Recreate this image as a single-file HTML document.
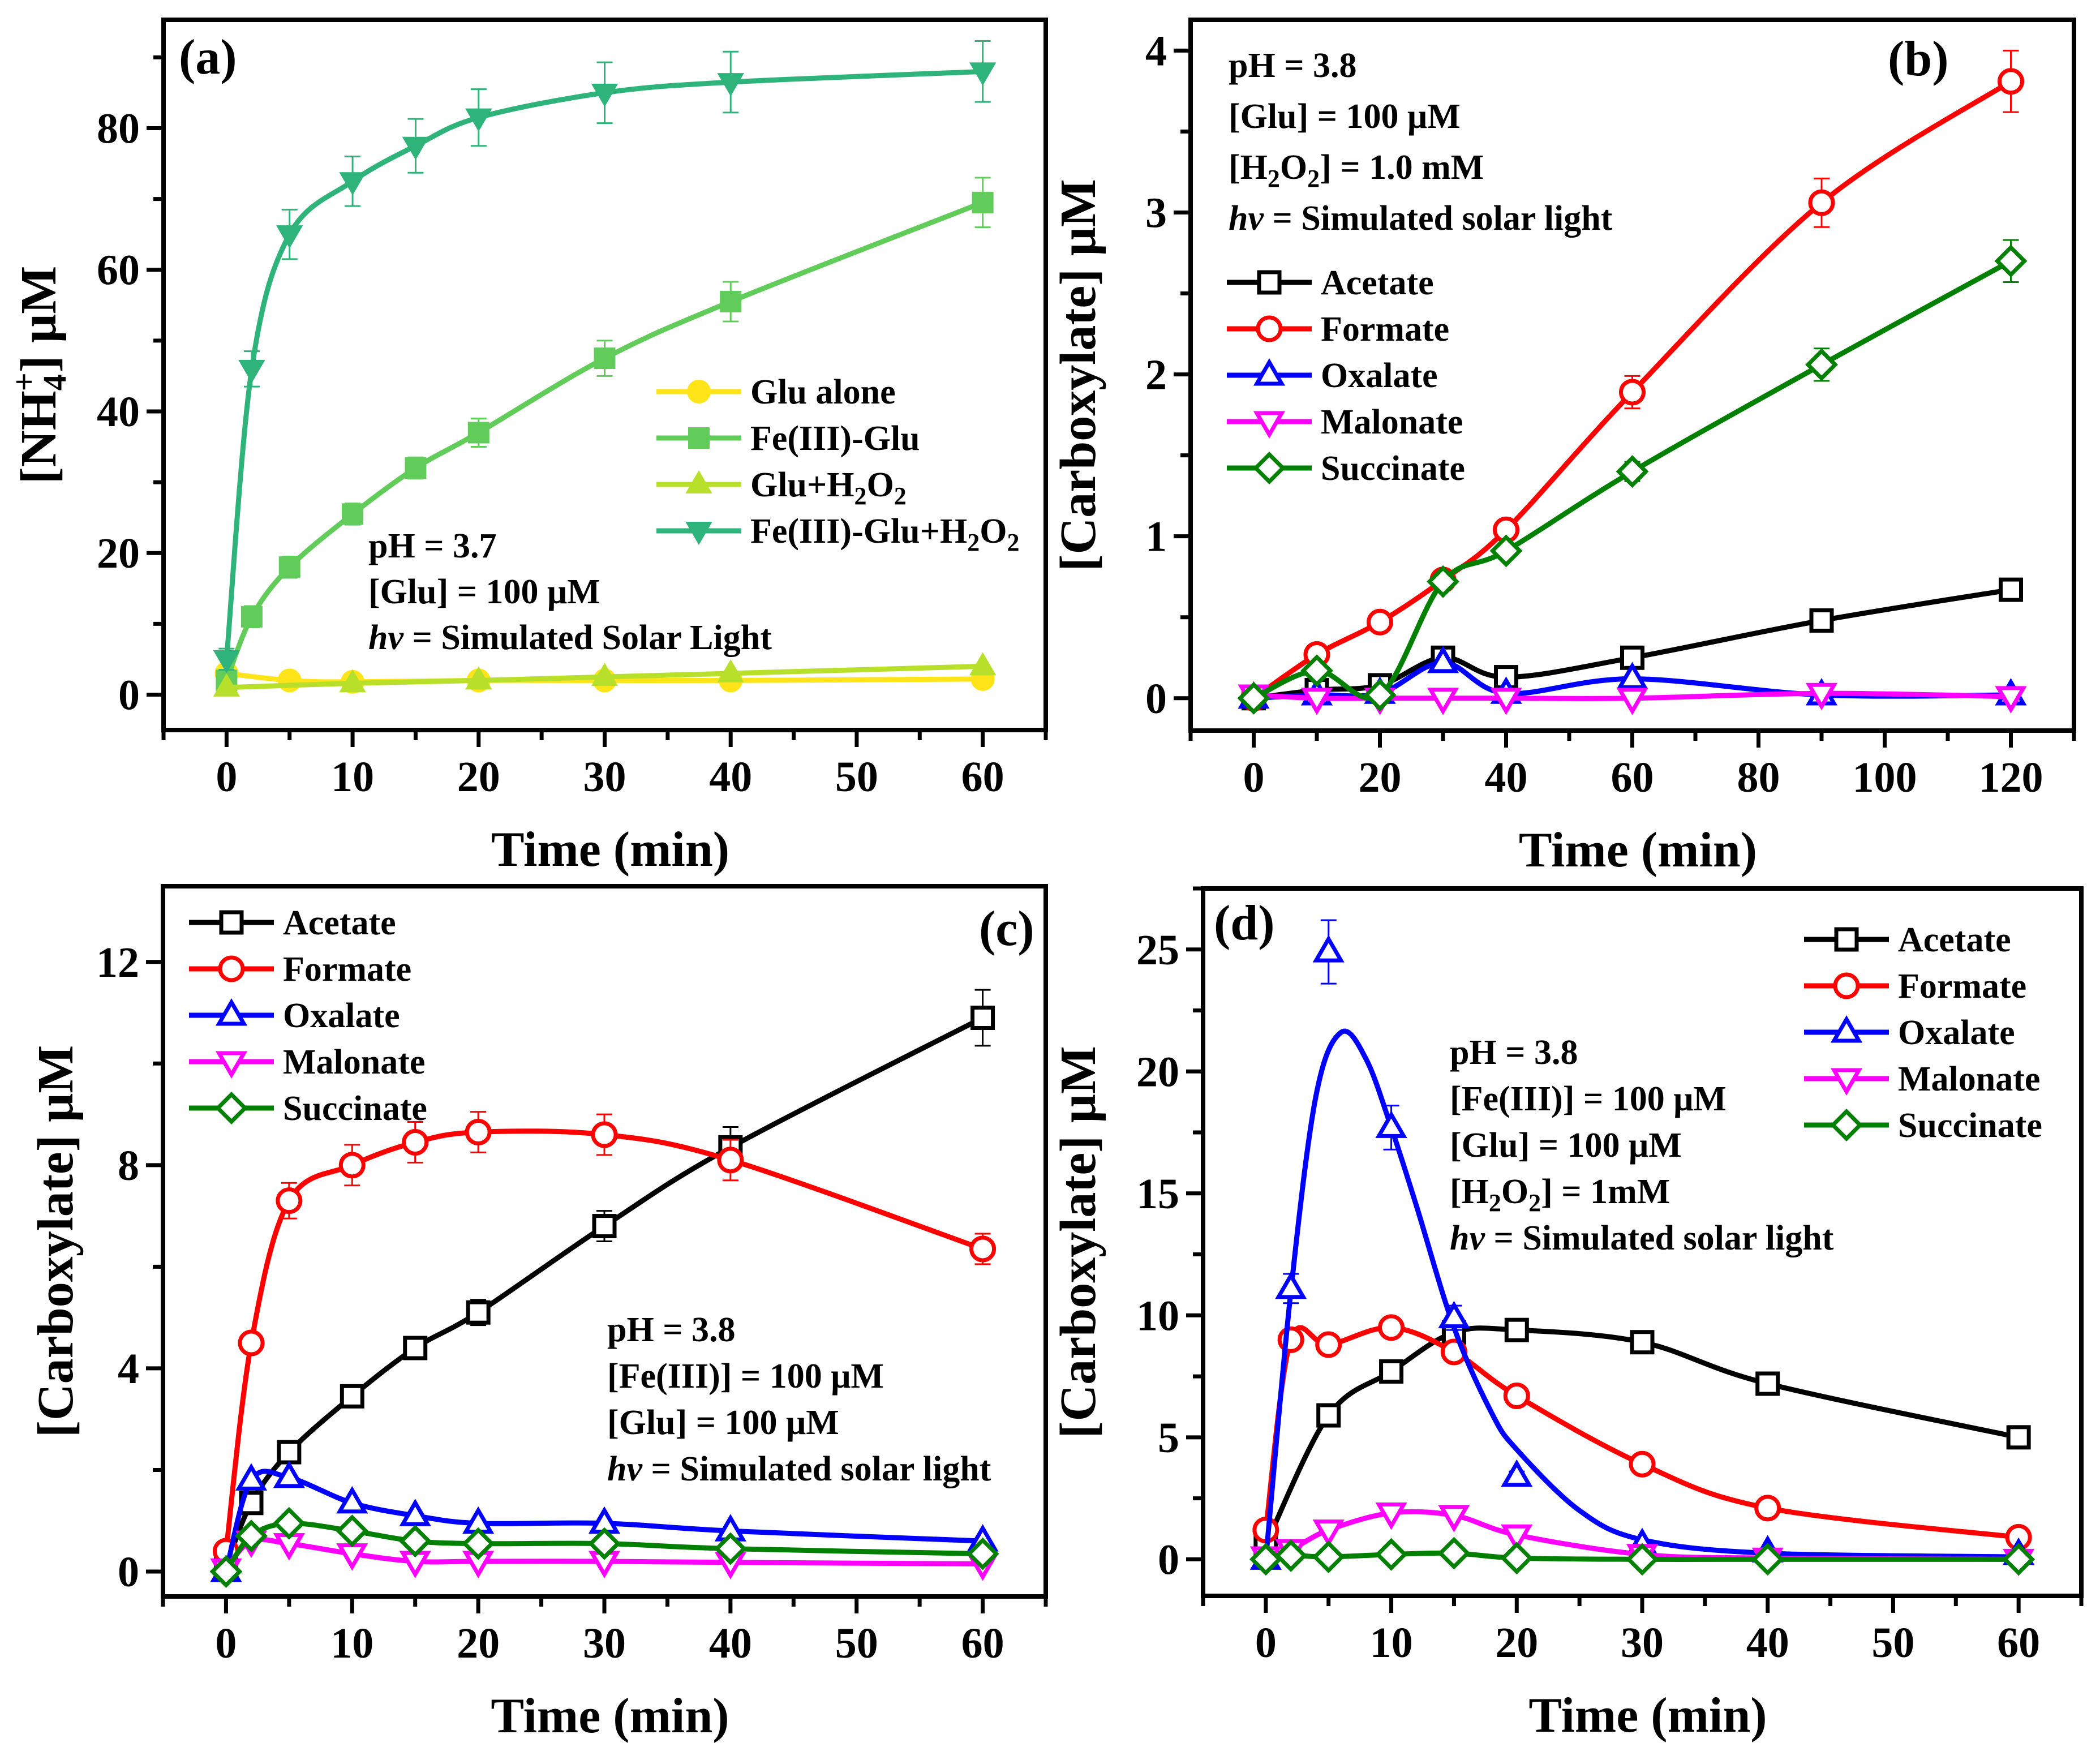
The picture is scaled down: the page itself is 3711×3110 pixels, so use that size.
<!DOCTYPE html>
<html><head><meta charset="utf-8">
<style>
html,body{margin:0;padding:0;background:#fff;}
svg{display:block;font-family:"Liberation Serif","DejaVu Serif",serif;font-weight:bold;}
</style></head>
<body>
<svg id="fig" width="3711" height="3110" viewBox="0 0 3711 3110" xmlns="http://www.w3.org/2000/svg"></svg>
<script>
// ---------- Panel (a) data ----------
const aGluX = [0,5,10,20,30,40,60];
const aGluY = [3,2,1.8,2,2,2,2.2];
const aFeGluX = [0,2,5,10,15,20,30,40,60];
const aFeGluY = [2,11,18,25.5,32,37,47.5,55.5,69.5];
const aFeGluE = [1,1.5,1.5,1.5,1.5,2,2.5,2.8,3.5];
const aGluHX = [0,10,20,30,40,60];
const aGluHY = [1,1.6,2,2.5,3,4];
const aFeGluHX = [0,2,5,10,15,20,30,40,60];
const aFeGluHY = [5,46,65,72.5,77.5,81.5,85,86.5,88];
const aFeGluHE = [1.5,2.5,3.5,3.5,3.8,4,4.3,4.3,4.3];
const aXTicks = [0,10,20,30,40,50,60];
const aYTicks = [0,20,40,60,80];
// ---------- Panel (b) data ----------
const bX = [0,10,20,30,40,60,90,120];
const bAcetate = [0,0.05,0.08,0.25,0.13,0.25,0.48,0.67];
const bFormate = [0,0.27,0.47,0.73,1.04,1.89,3.06,3.81];
const bFormateE = [0,0.03,0.03,0.04,0.05,0.1,0.15,0.19];
const bOxalate = [0,0.02,0.03,0.22,0.03,0.12,0.02,0.02];
const bMalonate = [0.02,0,0,0,0,0,0.03,0.01];
const bSuccinate = [0,0.17,0.02,0.72,0.91,1.4,2.06,2.7];
const bSuccinateE = [0,0.03,0.03,0.04,0.05,0.06,0.1,0.13];
const bXTicks = [0,20,40,60,80,100,120];
const bYTicks = [0,1,2,3,4];
// ---------- Panel (c) data ----------
const cX = [0,2,5,10,15,20,30,40,60];
const cAcetate = [0.1,1.35,2.35,3.45,4.4,5.1,6.8,8.35,10.9];
const cAcetateE = [0.05,0.1,0.1,0.12,0.2,0.25,0.3,0.4,0.55];
const cFormate = [0.4,4.5,7.3,8.0,8.45,8.65,8.6,8.1,6.35];
const cFormateE = [0.05,0.2,0.35,0.4,0.4,0.4,0.4,0.4,0.3];
const cOxalate = [0,1.8,1.85,1.35,1.1,0.95,0.95,0.8,0.6];
const cMalonate = [0.05,0.6,0.55,0.35,0.2,0.2,0.2,0.18,0.15];
const cSuccinate = [0,0.7,0.95,0.8,0.6,0.55,0.55,0.45,0.35];
const cXTicks = [0,10,20,30,40,50,60];
const cYTicks = [0,4,8,12];
// ---------- Panel (d) data ----------
const dAcetateX = [0,5,10,15,20,30,40,60];
const dAcetate = [0.6,5.9,7.7,9.3,9.4,8.9,7.2,5.0];
const dX = [0,2,5,10,15,20,30,40,60];
const dFormate = [1.2,9.0,8.8,9.5,8.5,6.7,3.9,2.1,0.9];
const dOxalate = [0,11.1,24.9,17.7,9.9,3.4,0.6,0.3,0.2];
const dOxalateE = [0,0.6,1.3,0.9,0.5,0.2,0.1,0.1,0.1];
const dOxalateFitX = [0,2,4,6,8,10,12,15,18,20,25,30,40,60];
const dOxalateFitY = [0,11,19,21.6,20.5,17.7,14.5,9.5,6,4.5,2,0.8,0.25,0.1];
const dMalonate = [0.1,0.4,1.2,1.9,1.8,1.0,0.2,0.05,0];
const dSuccinate = [0,0.15,0.1,0.2,0.25,0.05,0,0,0];
const dXTicks = [0,10,20,30,40,50,60];
const dYTicks = [0,5,10,15,20,25];

const NS = "http://www.w3.org/2000/svg";
const svg = document.getElementById('fig');
function mk(tag, attrs, parent){
  const e = document.createElementNS(NS, tag);
  for (const k in attrs) e.setAttribute(k, attrs[k]);
  (parent||svg).appendChild(e);
  return e;
}
function txt(parent, x, y, html, size, anchor, extra){
  const t = mk('text', Object.assign({x:x, y:y, 'font-size':size, 'text-anchor':anchor||'start', fill:'#000'}, extra||{}), parent);
  t.innerHTML = html;
  return t;
}
function smoothPath(pts){
  if (pts.length < 2) return '';
  let d = 'M' + pts[0][0] + ',' + pts[0][1];
  for (let i = 0; i < pts.length - 1; i++){
    const p0 = pts[Math.max(0,i-1)], p1 = pts[i], p2 = pts[i+1], p3 = pts[Math.min(pts.length-1,i+2)];
    const t = 6;
    const c1x = p1[0] + (p2[0]-p0[0])/t, c1y = p1[1] + (p2[1]-p0[1])/t;
    const c2x = p2[0] - (p3[0]-p1[0])/t, c2y = p2[1] - (p3[1]-p1[1])/t;
    d += ' C' + c1x + ',' + c1y + ' ' + c2x + ',' + c2y + ' ' + p2[0] + ',' + p2[1];
  }
  return d;
}
function marker(g, shape, x, y, color, filled, r){
  const fill = filled ? color : '#fff';
  const sw = filled ? 2 : 7;
  let e;
  if (shape === 'circle') e = mk('circle', {cx:x, cy:y, r:r, fill:fill, stroke:color, 'stroke-width':sw}, g);
  else if (shape === 'square') e = mk('rect', {x:x-r*0.9, y:y-r*0.9, width:r*1.8, height:r*1.8, fill:fill, stroke:color, 'stroke-width':sw}, g);
  else if (shape === 'up') e = mk('polygon', {points:`${x},${y-r*1.15} ${x-r*1.1},${y+r*0.75} ${x+r*1.1},${y+r*0.75}`, fill:fill, stroke:color, 'stroke-width':sw}, g);
  else if (shape === 'down') e = mk('polygon', {points:`${x},${y+r*1.15} ${x-r*1.1},${y-r*0.75} ${x+r*1.1},${y-r*0.75}`, fill:fill, stroke:color, 'stroke-width':sw}, g);
  else if (shape === 'diamond') e = mk('polygon', {points:`${x},${y-r*1.2} ${x+r*1.2},${y} ${x},${y+r*1.2} ${x-r*1.2},${y}`, fill:fill, stroke:color, 'stroke-width':sw}, g);
  
  
  return e;
}
function panel(cfg){
  const g = mk('g', {});
  
  
  const sx = v => cfg.L + (v - cfg.xmin) / (cfg.xmax - cfg.xmin) * (cfg.R - cfg.L);
  const sy = v => cfg.B - (v - cfg.ymin) / (cfg.ymax - cfg.ymin) * (cfg.B - cfg.T);
  cfg.series.forEach(s => {
    const sg = mk('g', {}, g);
    
    
    const lx = s.fitX || s.x, ly = s.fitY || s.y;
    const pts = lx.map((v,i) => [sx(v), sy(ly[i])]);
    const p = mk('path', {d: smoothPath(pts), fill:'none', stroke:s.color, 'stroke-width':9, 'stroke-linejoin':'round'}, sg);
    
    
    if (s.err){
      s.x.forEach((v,i) => {
        const e = s.err[i]; if (!e) return;
        const X = sx(v), y1 = sy(s.y[i]+e), y2 = sy(s.y[i]-e);
        const eb = mk('path', {d:`M${X},${y1}V${y2}M${X-14},${y1}H${X+14}M${X-14},${y2}H${X+14}`, stroke:s.color, 'stroke-width':3, fill:'none'}, sg);
        
        
      });
    }
    s.x.forEach((v,i) => marker(sg, s.shape, sx(v), sy(s.y[i]), s.color, s.filled, s.r || 20));
  });
  const fr = mk('rect', {x:cfg.L, y:cfg.T, width:cfg.R-cfg.L, height:cfg.B-cfg.T, fill:'none', stroke:'#000', 'stroke-width':8}, g);
  
  
  const xa = mk('g', {}, g);
  
  
  for (let v = cfg.xmin; v <= cfg.xmax + 1e-9; v += cfg.xminor){
    const isMaj = cfg.xTicks.some(t => Math.abs(t - v) < 1e-9);
    mk('line', {x1:sx(v), x2:sx(v), y1:cfg.B, y2:cfg.B + (isMaj ? 30 : 18), stroke:'#000', 'stroke-width':7}, xa);
  }
  cfg.xTicks.forEach(v => {
    const t = txt(xa, sx(v), cfg.B + 108, String(v), 76, 'middle');
    
    
  });
  const ya = mk('g', {}, g);
  
  
  const y0 = cfg.yTicks[0];
  for (let k = Math.ceil((cfg.ymin - y0)/cfg.yminor); y0 + k*cfg.yminor <= cfg.ymax + 1e-9; k++){
    const v = y0 + k*cfg.yminor;
    const isMaj = cfg.yTicks.some(t => Math.abs(t - v) < 1e-9);
    mk('line', {x1:cfg.L, x2:cfg.L - (isMaj ? 30 : 18), y1:sy(v), y2:sy(v), stroke:'#000', 'stroke-width':7}, ya);
  }
  cfg.yTicks.forEach(v => {
    const t = txt(ya, cfg.L - 42, sy(v) + 26, String(v), 76, 'end');
    
    
  });
  const xt = txt(g, (cfg.L + cfg.R)/2 + 10, cfg.B + 240, 'Time (min)', 88, 'middle');
  
  
  const yt = txt(g, 0, 0, cfg.ytitle, 90, 'middle', {transform:`translate(${cfg.ytx},${(cfg.T+cfg.B)/2}) rotate(-90)`});
  
  
  const pl = txt(g, cfg.labX, cfg.labY, cfg.label, 88, 'start');
  
  
  const lg = mk('g', {}, g);
  
  
  cfg.series.filter(s => s.legend).forEach((s, i) => {
    const y = cfg.legY + i * cfg.legDy;
    const le = mk('g', {}, lg);
    
    
    mk('line', {x1:cfg.legX, x2:cfg.legX + cfg.legW, y1:y, y2:y, stroke:s.color, 'stroke-width':9}, le);
    marker(le, s.shape, cfg.legX + cfg.legW/2, y, s.color, s.filled, s.r || 20);
    txt(le, cfg.legX + cfg.legW + 16, y + 21, s.legend, 62, 'start');
  });
  const an = mk('g', {}, g);
  
  
  cfg.notes.forEach((n, i) => txt(an, cfg.noteX, cfg.noteY + i * cfg.noteDy, n, 62, 'start'));
}
const SUB = s => `<tspan font-size="44" baseline-shift="-14">${s}</tspan>`;
const HV = '<tspan font-style="italic">hv</tspan>';

panel({name:'panel-a', L:289, R:1848, T:35, B:1290, xmin:-5, xmax:65, ymin:-5, ymax:95.3,
  xTicks:aXTicks, yTicks:aYTicks, xminor:5, yminor:10,
  ytitle:'[NH<tspan font-size="58" baseline-shift="-18">4</tspan><tspan font-size="58" baseline-shift="36" dx="-30">+</tspan>] μM', ytx:98,
  label:'(a)', labX:316, labY:130,
  legX:1160, legW:150, legY:692, legDy:82,
  noteX:651, noteY:985, noteDy:81,
  notes:['pH = 3.7','[Glu] = 100 μM', HV + ' = Simulated Solar Light'],
  series:[
    {key:'glu-alone', x:aGluX, y:aGluY, color:'#ffe41a', shape:'circle', filled:true, legend:'Glu alone'},
    {key:'fe-glu', x:aFeGluX, y:aFeGluY, err:aFeGluE, color:'#62cc5a', shape:'square', filled:true, legend:'Fe(III)-Glu'},
    {key:'glu-h2o2', x:aGluHX, y:aGluHY, color:'#b8e02b', shape:'up', filled:true, legend:'Glu+H' + SUB('2') + 'O' + SUB('2')},
    {key:'fe-glu-h2o2', x:aFeGluHX, y:aFeGluHY, err:aFeGluHE, color:'#2eb47b', shape:'down', filled:true, legend:'Fe(III)-Glu+H' + SUB('2') + 'O' + SUB('2')}
  ]});

panel({name:'panel-b', L:2104, R:3665, T:35, B:1291, xmin:-10, xmax:130, ymin:-0.2, ymax:4.19,
  xTicks:bXTicks, yTicks:bYTicks, xminor:10, yminor:0.5,
  ytitle:'[Carboxylate] μM', ytx:1935,
  label:'(b)', labX:3336, labY:133,
  legX:2168, legW:150, legY:499, legDy:82,
  noteX:2171, noteY:136, noteDy:90,
  notes:['pH = 3.8','[Glu] = 100  μM','[H' + SUB('2') + 'O' + SUB('2') + '] = 1.0 mM', HV + ' = Simulated solar light'],
  series:[
    {key:'acetate', x:bX, y:bAcetate, color:'#000000', shape:'square', legend:'Acetate'},
    {key:'formate', x:bX, y:bFormate, err:bFormateE, color:'#ff0000', shape:'circle', legend:'Formate'},
    {key:'oxalate', x:bX, y:bOxalate, color:'#0000ff', shape:'up', legend:'Oxalate'},
    {key:'malonate', x:bX, y:bMalonate, color:'#ff00ff', shape:'down', legend:'Malonate'},
    {key:'succinate', x:bX, y:bSuccinate, err:bSuccinateE, color:'#008000', shape:'diamond', legend:'Succinate'}
  ]});

panel({name:'panel-c', L:288, R:1848, T:1566, B:2821, xmin:-5, xmax:65, ymin:-0.49, ymax:13.49,
  xTicks:cXTicks, yTicks:cYTicks, xminor:5, yminor:2,
  ytitle:'[Carboxylate] μM', ytx:128,
  label:'(c)', labX:1730, labY:1670,
  legX:334, legW:150, legY:1630, legDy:82,
  noteX:1073, noteY:2370, noteDy:82,
  notes:['pH = 3.8','[Fe(III)] = 100 μM','[Glu] = 100 μM', HV + ' = Simulated solar light'],
  series:[
    {key:'acetate', x:cX, y:cAcetate, err:cAcetateE, color:'#000000', shape:'square', legend:'Acetate'},
    {key:'formate', x:cX, y:cFormate, err:cFormateE, color:'#ff0000', shape:'circle', legend:'Formate'},
    {key:'oxalate', x:cX, y:cOxalate, color:'#0000ff', shape:'up', legend:'Oxalate'},
    {key:'malonate', x:cX, y:cMalonate, color:'#ff00ff', shape:'down', legend:'Malonate'},
    {key:'succinate', x:cX, y:cSuccinate, color:'#008000', shape:'diamond', legend:'Succinate'}
  ]});

panel({name:'panel-d', L:2126, R:3678, T:1570, B:2820, xmin:-5, xmax:65, ymin:-1.5, ymax:27.5,
  xTicks:dXTicks, yTicks:dYTicks, xminor:5, yminor:2.5,
  ytitle:'[Carboxylate] μM', ytx:1935,
  label:'(d)', labX:2145, labY:1660,
  legX:3188, legW:150, legY:1660, legDy:82,
  noteX:2562, noteY:1880, noteDy:82,
  notes:['pH = 3.8','[Fe(III)] = 100 μM','[Glu] = 100 μM','[H' + SUB('2') + 'O' + SUB('2') + '] = 1mM', HV + ' = Simulated solar light'],
  series:[
    {key:'acetate', x:dAcetateX, y:dAcetate, color:'#000000', shape:'square', legend:'Acetate'},
    {key:'formate', x:dX, y:dFormate, color:'#ff0000', shape:'circle', legend:'Formate'},
    {key:'oxalate', x:dX, y:dOxalate, err:dOxalateE, fitX:dOxalateFitX, fitY:dOxalateFitY, color:'#0000ff', shape:'up', legend:'Oxalate'},
    {key:'malonate', x:dX, y:dMalonate, color:'#ff00ff', shape:'down', legend:'Malonate'},
    {key:'succinate', x:dX, y:dSuccinate, color:'#008000', shape:'diamond', legend:'Succinate'}
  ]});
</script>
</body></html>
